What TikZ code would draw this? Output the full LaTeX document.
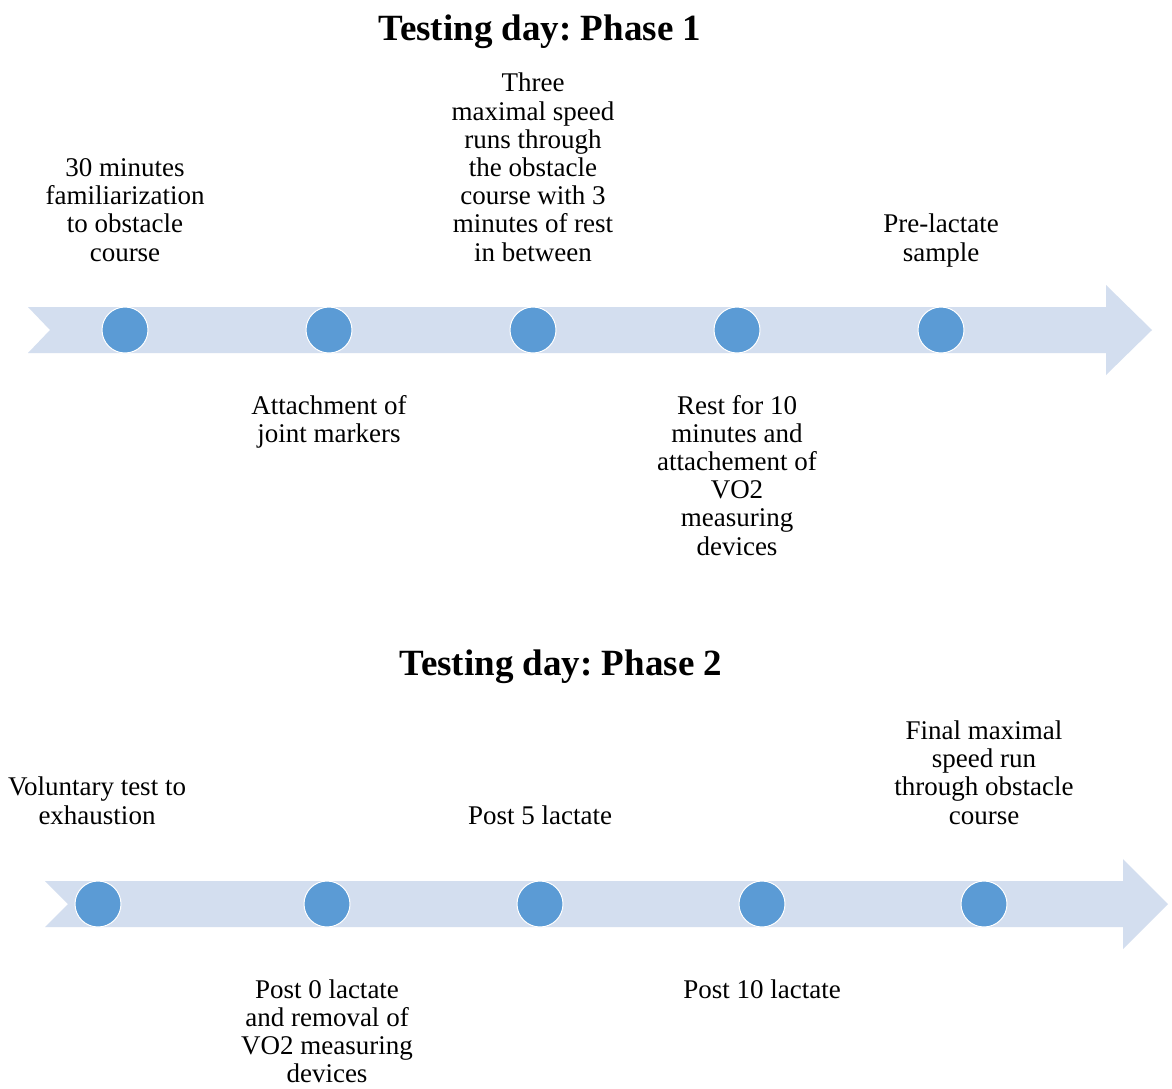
\documentclass[tikz,border=0pt]{standalone}
\usepackage{fontspec}
\setmainfont{Liberation Serif}
\frenchspacing
\definecolor{barblue}{HTML}{D3DEEF}
\definecolor{dotblue}{HTML}{5B9BD5}
\newcommand\tlblock[2]{\begin{tabular}[#1]{@{}c@{}}#2\end{tabular}}
\begin{document}
\begin{tikzpicture}[x=1pt,y=-1pt,
  bar/.style={fill=barblue, draw=none},
  dot/.style={circle, fill=dotblue, draw=white, line width=1pt, minimum size=46pt, inner sep=0pt},
  lbl/.style={inner sep=0pt, anchor=base, font=\fontsize{27}{28.2}\selectfont},
  ttl/.style={inner sep=0pt, anchor=base, font=\fontsize{37}{40}\selectfont\bfseries}]
\useasboundingbox[fill=white] (0,0) rectangle (1172,1088);

% ---------- Phase 1 ----------
\node[ttl] (t1) at (540,40) {Testing day: Phase 1};
\path[bar] (28,307) -- (1106,307) -- (1106,285) -- (1152,330) -- (1106,375)
  -- (1106,353) -- (28,353) -- (50,330) -- cycle;
\node[dot] (p1a) at (125,330) {};
\node[dot] (p1b) at (329,330) {};
\node[dot] (p1c) at (533,330) {};
\node[dot] (p1d) at (737,330) {};
\node[dot] (p1e) at (941,330) {};

\node[lbl] (l1a) at (125,261) {\tlblock{b}{30 minutes\\familiarization\\to obstacle\\course}};
\node[lbl] (l1c) at (533,261) {\tlblock{b}{Three\\maximal speed\\runs through\\the obstacle\\course with 3\\minutes of rest\\in between}};
\node[lbl] (l1e) at (941,261) {\tlblock{b}{Pre-lactate\\sample}};
\node[lbl] (l1b) at (329,414) {\tlblock{t}{Attachment of\\joint markers}};
\node[lbl] (l1d) at (737,414) {\tlblock{t}{Rest for 10\\minutes and\\attachement of\\VO2\\measuring\\devices}};

% ---------- Phase 2 ----------
\node[ttl] (t2) at (561,675) {Testing day: Phase 2};
\path[bar] (45,881) -- (1123,881) -- (1123,859) -- (1168,904) -- (1123,949)
  -- (1123,927) -- (45,927) -- (68,904) -- cycle;
\node[dot] (p2a) at (98,904) {};
\node[dot] (p2b) at (327,904) {};
\node[dot] (p2c) at (540,904) {};
\node[dot] (p2d) at (762,904) {};
\node[dot] (p2e) at (984,904) {};

\node[lbl] (l2a) at (97,824) {\tlblock{b}{Voluntary test to\\exhaustion}};
\node[lbl] (l2c) at (540,824) {\tlblock{b}{Post 5 lactate}};
\node[lbl] (l2e) at (984,824) {\tlblock{b}{Final maximal\\speed run\\through obstacle\\course}};
\node[lbl] (l2b) at (327,998) {\tlblock{t}{Post 0 lactate\\and removal of\\VO2 measuring\\devices}};
\node[lbl] (l2d) at (762,998) {\tlblock{t}{Post 10 lactate}};
\end{tikzpicture}
\end{document}
